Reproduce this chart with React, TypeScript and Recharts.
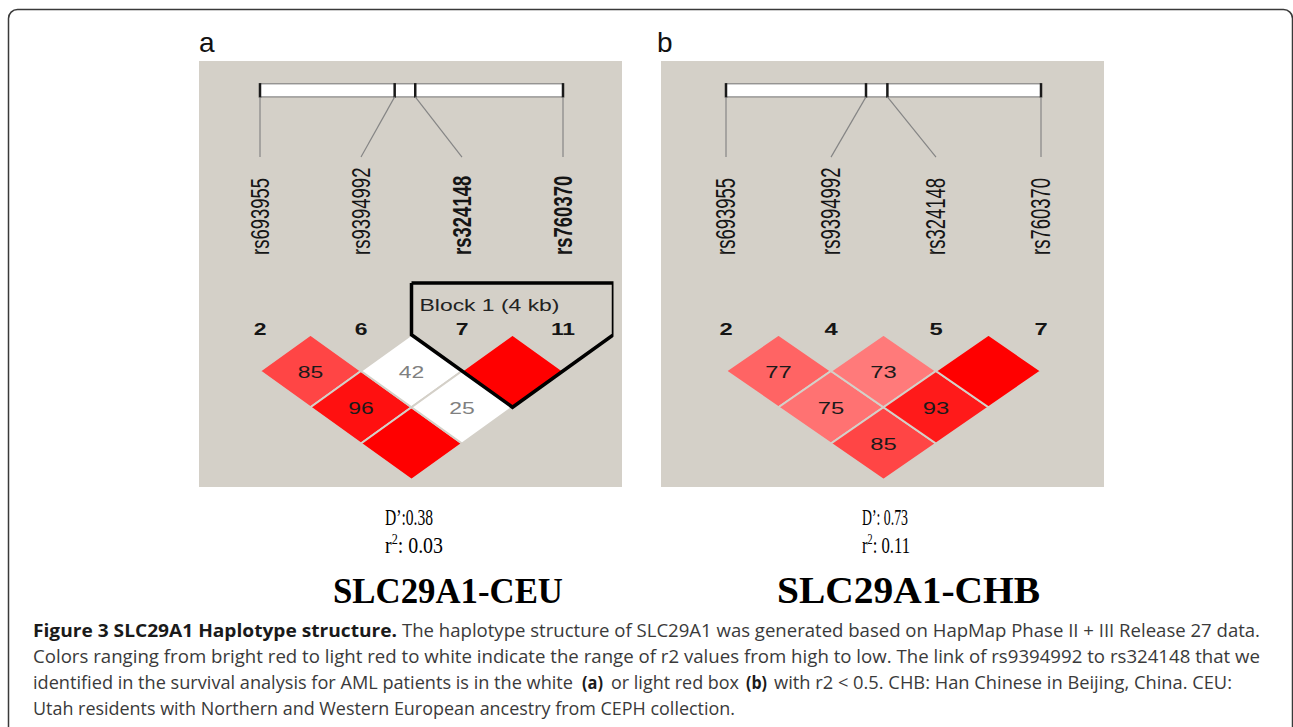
import React from 'react'
import { ScatterChart, Scatter, XAxis, YAxis, ReferenceArea, ReferenceLine, ReferenceDot } from 'recharts'

// markers, left to right
const SNPS = ['rs693955', 'rs9394992', 'rs324148', 'rs760370']
const SNP_POS_KB = [0, 3.6, 4.15, 8.1]
// pairwise cells: (1,2) (1,3) (1,4) (2,3) (2,4) (3,4)
const PAIRS = [[1, 2], [1, 3], [1, 4], [2, 3], [2, 4], [3, 4]]

const CEU_MARKERS = ['2', '6', '7', '11']
const CEU_DPRIME = [85, 96, 100, 42, 25, 100]
const CEU_COLORS = ['#ff4545', '#ff1010', '#ff0000', '#ffffff', '#ffffff', '#ff0000']
const CEU_BOLD = [false, false, true, true]
const CEU_BLOCK = [3, 4]

const CHB_MARKERS = ['2', '4', '5', '7']
const CHB_DPRIME = [77, 75, 85, 73, 93, 100]
const CHB_COLORS = ['#ff6464', '#ff7272', '#ff4545', '#ff7a7a', '#ff1a1a', '#ff0000']
const CHB_BOLD = [false, false, false, false]

const BG = '#d4d0c8'
const HV_FONT = '"Liberation Sans", Arial, sans-serif'
const SERIF = '"Liberation Serif", "Times New Roman", serif'
const CAP_FONT = '"Open Sans", "Noto Sans", sans-serif'

const PANEL_H = 426
const Y_DOMAIN: [number, number] = [-7.55, 4.2]
const BAR_Y: [number, number] = [-6.92, -6.56]
const LINK_END_Y = -4.9
const LABEL_Y = -2.2
const MARKER_Y = 0
const BLOCK_TOP_Y = -1.43

type PanelProps = {
  width: number; ml: number; mr: number
  markers: string[]; dprime: number[]; colors: string[]; bold: boolean[]
  block?: number[]
}

function LDPanel({ width, ml, mr, markers, dprime, colors, bold, block }: PanelProps) {
  const n = SNPS.length
  const unitX = (width - ml - mr) / n
  const unitY = PANEL_H / (Y_DOMAIN[1] - Y_DOMAIN[0])
  const sx = unitX / 70.6
  const physX = (kb: number) => 1 + (n - 1) * kb / SNP_POS_KB[n - 1]
  const cells = PAIRS.map(([i, j], k) => ({ x: (i + j) / 2, y: j - i, v: dprime[k], fill: colors[k] }))
  const blockPts = block
    ? [
        { x: block[0] - 0.5, y: BLOCK_TOP_Y },
        { x: block[1] + 0.5, y: BLOCK_TOP_Y },
        { x: block[1] + 0.5, y: 0 },
        { x: (block[0] + block[1]) / 2, y: block[1] - block[0] + 1 },
        { x: block[0] - 0.5, y: 0 },
        { x: block[0] - 0.5, y: BLOCK_TOP_Y },
      ]
    : []

  const diamond = (p: any) => {
    const { cx, cy, payload } = p
    const hw = unitX / 2
    const hh = unitY
    return (
      <g>
        <polygon points={`${cx},${cy - hh} ${cx + hw},${cy} ${cx},${cy + hh} ${cx - hw},${cy}`}
          fill={payload.fill} stroke={BG} strokeWidth={2} />
        {payload.v < 100 && (
          <text transform={`translate(${cx},${cy + 7}) scale(${sx},1)`} textAnchor="middle"
            fontFamily={HV_FONT} fontSize={16} fill={payload.fill === '#ffffff' ? '#808080' : '#1a1a1a'}>
            {payload.v}
          </text>
        )}
      </g>
    )
  }

  return (
    <div style={{ background: BG, width, height: PANEL_H }}>
      <ScatterChart width={width} height={PANEL_H} margin={{ top: 0, right: mr, bottom: 0, left: ml }}>
        <XAxis type="number" dataKey="x" domain={[0.5, n + 0.5]} hide allowDataOverflow />
        <YAxis type="number" dataKey="y" domain={Y_DOMAIN} reversed hide allowDataOverflow />
        <ReferenceArea x1={1} x2={n} y1={BAR_Y[0]} y2={BAR_Y[1]} fill="#ffffff" fillOpacity={1} stroke="#707070" strokeWidth={1} />
        {SNP_POS_KB.map((kb, i) => (
          <ReferenceLine key={'t' + i} segment={[{ x: physX(kb), y: BAR_Y[0] - 0.02 }, { x: physX(kb), y: BAR_Y[1] + 0.02 }]}
            stroke="#1a1a1a" strokeWidth={2.5} />
        ))}
        {SNP_POS_KB.map((kb, i) => (
          <ReferenceLine key={'l' + i} segment={[{ x: physX(kb), y: BAR_Y[1] }, { x: i + 1, y: LINK_END_Y }]}
            stroke="#858585" strokeWidth={1.2} />
        ))}
        {SNPS.map((s, i) => (
          <ReferenceDot key={'s' + i} x={i + 1} y={LABEL_Y} r={0}
            shape={(p: any) => (
              <text transform={`translate(${p.cx},${p.cy}) scale(${sx},1) rotate(-90)`} textAnchor="start"
                dominantBaseline="central" fontFamily={HV_FONT} fontSize={18.5}
                fontWeight={bold[i] ? 'bold' : 'normal'} fill="#151515">{s}</text>
            )} />
        ))}
        {markers.map((m, i) => (
          <ReferenceDot key={'m' + i} x={i + 1} y={MARKER_Y} r={0}
            shape={(p: any) => (
              <text transform={`translate(${p.cx},${p.cy}) scale(${sx},1)`} textAnchor="middle"
                fontFamily={HV_FONT} fontSize={16} fontWeight="bold" fill="#151515">{m}</text>
            )} />
        ))}
        <Scatter data={cells} shape={diamond} isAnimationActive={false} />
        {block && (
          <Scatter data={blockPts} line={{ stroke: '#000000', strokeWidth: 3.5 }} shape={() => <g />} isAnimationActive={false} />
        )}
        {block && (
          <ReferenceDot x={block[0] - 0.42} y={-0.65} r={0}
            shape={(p: any) => (
              <text transform={`translate(${p.cx},${p.cy}) scale(${sx},1)`} textAnchor="start"
                fontFamily={HV_FONT} fontSize={16} fill="#222222">Block 1 (4 kb)</text>
            )} />
        )}
      </ScatterChart>
    </div>
  )
}

export default function App() {
  return (
    <div style={{ position: 'absolute', left: 0, top: 0, width: 1293, height: 727, background: '#ffffff', overflow: 'hidden' }}>
      <svg width={1293} height={727} style={{ position: 'absolute', left: 0, top: 0 }}>
        <rect x={8.5} y={9.5} width={1284} height={780} rx={9} fill="none" stroke="#3a3a3a" strokeWidth={1.5} />
        <text x={199} y={52} fontFamily={HV_FONT} fontSize={28} fill="#111">a</text>
        <text x={657} y={52} fontFamily={HV_FONT} fontSize={28} fill="#111">b</text>

        <text x={385} y={525} fontFamily={SERIF} fontSize={23} textLength={48} lengthAdjust="spacingAndGlyphs">D’:0.38</text>
        <text x={385} y={553} fontFamily={SERIF} fontSize={23} textLength={58} lengthAdjust="spacingAndGlyphs">
          r<tspan fontSize={14} dy={-9}>2</tspan><tspan dy={9}>: 0.03</tspan>
        </text>
        <text x={333} y={603} fontFamily={SERIF} fontSize={35} fontWeight="bold" textLength={230} lengthAdjust="spacingAndGlyphs">SLC29A1-CEU</text>

        <text x={862} y={525} fontFamily={SERIF} fontSize={23} textLength={46} lengthAdjust="spacingAndGlyphs">D’: 0.73</text>
        <text x={862} y={553} fontFamily={SERIF} fontSize={23} textLength={48} lengthAdjust="spacingAndGlyphs">
          r<tspan fontSize={14} dy={-9}>2</tspan><tspan dy={9}>: 0.11</tspan>
        </text>
        <text x={777} y={603} fontFamily={SERIF} fontSize={38} fontWeight="bold" textLength={263} lengthAdjust="spacingAndGlyphs">SLC29A1-CHB</text>

        <g fontFamily={CAP_FONT} fontSize={18} fill="#3a3a3a">
          <text x={33} y={637} fontWeight="bold" fill="#1a1a1a" textLength={364} lengthAdjust="spacingAndGlyphs">Figure 3 SLC29A1 Haplotype structure.</text>
          <text x={402} y={637} textLength={858} lengthAdjust="spacingAndGlyphs">The haplotype structure of SLC29A1 was generated based on HapMap Phase II + III Release 27 data.</text>
          <text x={33} y={663} textLength={1227} lengthAdjust="spacingAndGlyphs">Colors ranging from bright red to light red to white indicate the range of r2 values from high to low. The link of rs9394992 to rs324148 that we</text>
          <text x={33} y={689} textLength={540} lengthAdjust="spacingAndGlyphs">identified in the survival analysis for AML patients is in the white</text>
          <text x={582} y={689} fontWeight="bold" fill="#1a1a1a" textLength={21} lengthAdjust="spacingAndGlyphs">(a)</text>
          <text x={611} y={689} textLength={128} lengthAdjust="spacingAndGlyphs">or light red box</text>
          <text x={746} y={689} fontWeight="bold" fill="#1a1a1a" textLength={21} lengthAdjust="spacingAndGlyphs">(b)</text>
          <text x={774} y={689} textLength={458} lengthAdjust="spacingAndGlyphs">with r2 &lt; 0.5. CHB: Han Chinese in Beijing, China. CEU:</text>
          <text x={33} y={715} textLength={702} lengthAdjust="spacingAndGlyphs">Utah residents with Northern and Western European ancestry from CEPH collection.</text>
        </g>
      </svg>
      <div style={{ position: 'absolute', left: 199, top: 61 }}>
        <LDPanel width={423} ml={10.5} mr={8.5} markers={CEU_MARKERS} dprime={CEU_DPRIME} colors={CEU_COLORS} bold={CEU_BOLD} block={CEU_BLOCK} />
      </div>
      <div style={{ position: 'absolute', left: 661, top: 61 }}>
        <LDPanel width={443} ml={12.5} mr={10.5} markers={CHB_MARKERS} dprime={CHB_DPRIME} colors={CHB_COLORS} bold={CHB_BOLD} />
      </div>
    </div>
  )
}
